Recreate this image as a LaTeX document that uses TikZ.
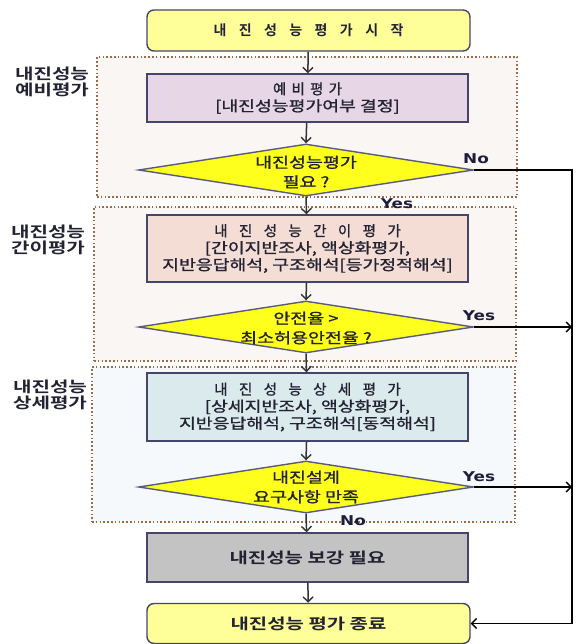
\documentclass[tikz,border=0pt]{standalone}
\usepackage{fontspec}
\setmainfont{Noto Sans CJK KR}[FakeBold=1]
\newfontfamily\kbold{Noto Sans CJK KR Bold}
\newfontfamily\latinb{DejaVu Sans}
\usetikzlibrary{shapes.geometric,arrows.meta}
\newcommand\hw[2][1.26]{\scalebox{#1}[1]{#2}}
\newcommand\gA{\hspace{12.4pt}}
\newcommand\gB{\hspace{5.2pt}}
\newcommand\gC{\hspace{11.4pt}}
\definecolor{bordercol}{HTML}{45456A}
\definecolor{txtcol}{HTML}{222233}
\definecolor{startfill}{HTML}{FFFF99}
\definecolor{prefill}{HTML}{E6D6E6}
\definecolor{ganfill}{HTML}{F3DDD4}
\definecolor{sangfill}{HTML}{DAEAED}
\definecolor{grayfill}{HTML}{C3C3C3}
\definecolor{diafill}{HTML}{FFFF1E}
\definecolor{diaborder}{HTML}{5A5A80}
\definecolor{regcol}{HTML}{9A6A4A}
\definecolor{regfillA}{HTML}{FAF6F4}
\definecolor{regfillB}{HTML}{F6F9FB}
\definecolor{arrcol}{HTML}{333333}
\definecolor{yncol}{HTML}{1E1E3C}
\begin{document}
\begin{tikzpicture}[x=1pt,y=-1pt,
  box/.style={draw=bordercol, line width=1.4pt, minimum width=321pt, inner sep=0pt,
    align=center, text=txtcol, font=\fontsize{14.5}{17}\selectfont},
  rbox/.style={box, rounded corners=7pt, fill=startfill, minimum width=323pt, minimum height=41pt},
  dia/.style={diamond, draw=diaborder, line width=1.4pt, fill=diafill,
    minimum width=335pt, minimum height=52pt, inner sep=0pt, shape aspect=6.5},
  diatext/.style={align=center, inner sep=0pt, text=txtcol, font=\fontsize{14.5}{19.5}\selectfont},
  regionbox/.style={draw=regcol, line width=1.6pt, dash pattern=on 1.6pt off 2.2pt, fill=#1, inner sep=0pt},
  sidelab/.style={align=center, inner sep=0pt, text=txtcol, font=\kbold\fontsize{15}{16.5}\selectfont},
  yn/.style={inner sep=0pt, text=yncol, font=\latinb\bfseries\fontsize{13.5}{14}\selectfont},
  arr/.style={draw=arrcol, line width=1.5pt, -{Straight Barb[length=5pt,width=10pt,line width=1.4pt]}},
  conn/.style={draw=black, line width=1.3pt},
  arrR/.style={conn, -{Straight Barb[length=5pt,width=10pt,line width=1.3pt]}}
]
\useasboundingbox (0,0) rectangle (576,644);
% regions
\node[regionbox=regfillA, minimum width=420pt, minimum height=140pt] (r1) at (307,127) {};
\node[regionbox=regfillA, minimum width=422pt, minimum height=154pt] (r2) at (305,284) {};
\node[regionbox=regfillB, minimum width=423pt, minimum height=155pt] (r3) at (303.5,444.5) {};
% side labels
\node[sidelab] (l1) at (52,82) {\hw[1.34]{내진성능}\\\hw[1.34]{예비평가}};
\node[sidelab] (l2) at (48,240) {\hw[1.34]{내진성능}\\\hw[1.34]{간이평가}};
\node[sidelab] (l3) at (50,395) {\hw[1.34]{내진성능}\\\hw[1.34]{상세평가}};
% boxes
\node[rbox, font=\kbold\fontsize{14}{17}\selectfont] (start) at (308.5,30.5) {내\gA 진\gA 성\gA 능\gA 평\gA 가\gA 시\gA 작};
\node[box, fill=prefill, minimum height=48pt] (pre) at (307.5,98) {예\gB 비\gB 평\gB 가\\\hw{[내진성능평가여부 결정]}};
\node[dia] (d1) at (306,170) {};
\node[diatext] (t1) at (306,172) {\hw[1.27]{내진성능평가}\\\hw[1.27]{필요 ?}};
\node[box, fill=ganfill, minimum height=67pt] (gan) at (307.5,248.5) {내\gC 진\gC 성\gC 능\gC 간\gC 이\gC 평\gC 가\\\hw{[간이지반조사, 액상화평가,}\\\hw{지반응답해석, 구조해석[등가정적해석]}};
\node[dia] (d2) at (306,327) {};
\node[diatext] (t2) at (306,328) {\hw[1.27]{안전율 >}\\\hw[1.27]{최소허용안전율 ?}};
\node[box, fill=sangfill, minimum height=68pt] (sang) at (307.5,407) {내\gC 진\gC 성\gC 능\gC 상\gC 세\gC 평\gC 가\\\hw{[상세지반조사, 액상화평가,}\\\hw{지반응답해석, 구조해석[동적해석]}};
\node[dia] (d3) at (306,487) {};
\node[diatext] (t3) at (306,487) {\hw[1.27]{내진설계}\\\hw[1.27]{요구사항 만족}};
\node[box, fill=grayfill, minimum height=49pt, font=\kbold\fontsize{15}{16.5}\selectfont] (gray) at (307.5,557.5) {\hw[1.33]{내진성능 보강 필요}};
\node[rbox, minimum height=40pt, font=\kbold\fontsize{15}{16.5}\selectfont] (end) at (308.5,623.5) {\hw[1.33]{내진성능 평가 종료}};
% yes/no labels
\node[yn] (no1) at (476,159) {\hw[1.25]{No}};
\node[yn] (yes1) at (397,204) {\hw[1.25]{Yes}};
\node[yn] (yes2) at (479,316) {\hw[1.25]{Yes}};
\node[yn] (yes3) at (479,477) {\hw[1.25]{Yes}};
\node[yn] (no2) at (353,521) {\hw[1.25]{No}};
% vertical arrows
\draw[arr] (start) -- (pre);
\draw[arr] (pre) -- (d1.north);
\draw[arr] (d1.south) -- (gan);
\draw[arr] (gan) -- (d2.north);
\draw[arr] (d2.south) -- (sang);
\draw[arr] (sang) -- (d3.north);
\draw[arr] (d3.south) -- (gray);
\draw[arr] (gray) -- (end);
% right side
\coordinate (c1) at (572,170);
\draw[arrR] (d1.east) -- (c1) |- (end.east);
\draw[arrR] (d2.east) -- (d2.east -| c1);
\draw[arrR] (d3.east) -- (d3.east -| c1);
\end{tikzpicture}
\end{document}
